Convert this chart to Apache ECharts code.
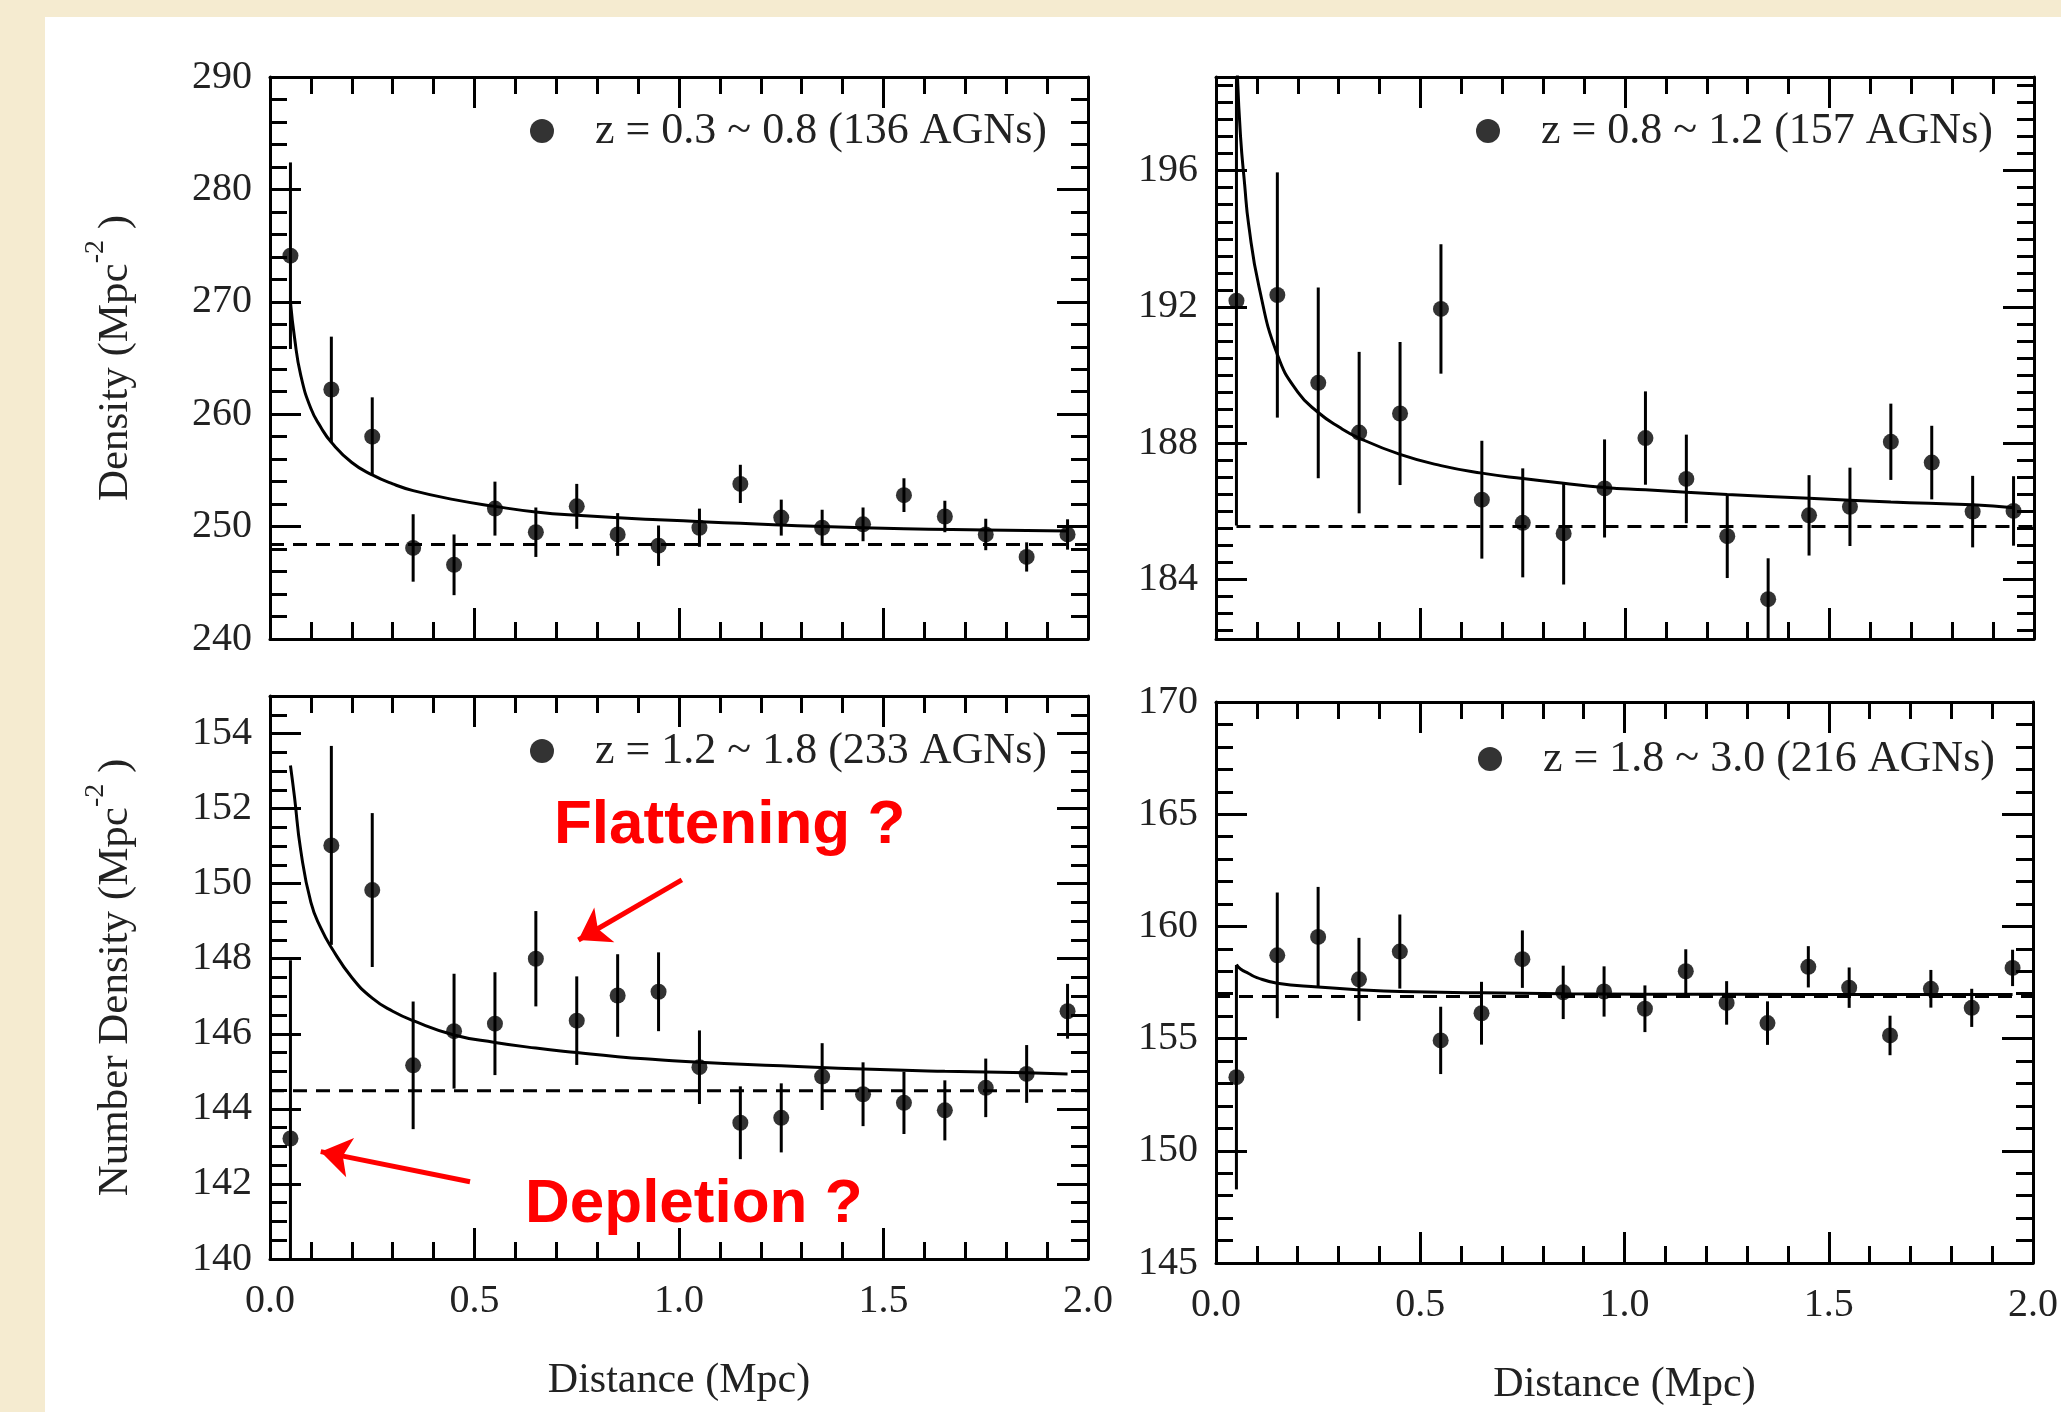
<!DOCTYPE html>
<html>
<head>
<meta charset="utf-8">
<script src="https://cdn.jsdelivr.net/npm/echarts@6/dist/echarts.min.js"></script>
<style>
  html, body { margin: 0; padding: 0; background: #F5EBD0; }
  #chart { width: 2061px; height: 1412px; }
</style>
</head>
<body>
<div id="chart"></div>
<script>
// bin centres (Mpc), shared by all four panels
const distance = [0.05, 0.15, 0.25, 0.35, 0.45, 0.55, 0.65, 0.75, 0.85, 0.95, 1.05, 1.15, 1.25, 1.35, 1.45, 1.55, 1.65, 1.75, 1.85, 1.95];
const xTickLabels = [0.0, 0.5, 1.0, 1.5, 2.0];

// z = 0.3 ~ 0.8
const density1 = [274.1, 262.2, 258.0, 248.1, 246.6, 251.6, 249.5, 251.8, 249.3, 248.3, 249.9, 253.8, 250.8, 249.9, 250.2, 252.8, 250.9, 249.3, 247.3, 249.3];
const error1 = [8.3, 4.7, 3.5, 3.0, 2.7, 2.4, 2.2, 2.0, 1.9, 1.8, 1.7, 1.7, 1.6, 1.6, 1.5, 1.5, 1.4, 1.4, 1.3, 1.35];
const fitX1 = [0.05, 0.06, 0.075, 0.1, 0.125, 0.15, 0.2, 0.25, 0.3, 0.35, 0.45, 0.55, 0.65, 0.75, 0.95, 1.15, 1.35, 1.55, 1.75, 1.95];
const fit1 = [270.0, 266.8, 263.5, 260.5, 258.8, 257.5, 255.7, 254.6, 253.8, 253.2, 252.4, 251.8, 251.3, 251.0, 250.6, 250.3, 250.0, 249.8, 249.7, 249.6];
const mean1 = 248.4;
const meanRange1 = [0.0, 2.0];
const yTicks1 = [240, 250, 260, 270, 280, 290];

// z = 0.8 ~ 1.2
const density2 = [192.18, 192.35, 189.77, 188.31, 188.87, 191.94, 186.34, 185.66, 185.35, 186.67, 188.15, 186.95, 185.27, 183.42, 185.88, 186.13, 188.04, 187.43, 185.99, 186.01];
const error2 = [6.6, 3.6, 2.8, 2.37, 2.1, 1.9, 1.73, 1.6, 1.5, 1.44, 1.37, 1.3, 1.23, 1.2, 1.18, 1.15, 1.12, 1.08, 1.05, 1.02];
const fitX2 = [0.052, 0.06, 0.07, 0.08, 0.105, 0.15, 0.2, 0.25, 0.3, 0.35, 0.45, 0.55, 0.65, 0.75, 0.85, 0.95, 1.05, 1.25, 1.45, 1.65, 1.85, 1.95];
const fit2 = [198.9, 197.0, 195.6, 194.4, 192.6, 190.6, 189.5, 188.9, 188.48, 188.15, 187.67, 187.34, 187.12, 186.96, 186.82, 186.7, 186.63, 186.49, 186.38, 186.27, 186.19, 186.1];
const mean2 = 185.55;
const meanRange2 = [0.05, 2.0];
const yTicks2 = [184, 188, 192, 196];

// z = 1.2 ~ 1.8
const density3 = [143.21, 151.02, 149.83, 145.16, 146.07, 146.27, 148.0, 146.35, 147.02, 147.12, 145.11, 143.63, 143.76, 144.86, 144.39, 144.16, 143.96, 144.56, 144.93, 146.6];
const error3 = [4.75, 2.65, 2.05, 1.7, 1.53, 1.37, 1.27, 1.18, 1.1, 1.05, 0.98, 0.97, 0.92, 0.89, 0.85, 0.83, 0.8, 0.78, 0.77, 0.73];
const fitX3 = [0.05, 0.06, 0.075, 0.1, 0.125, 0.15, 0.2, 0.25, 0.3, 0.35, 0.45, 0.55, 0.65, 0.75, 0.85, 0.95, 1.05, 1.25, 1.45, 1.65, 1.85, 1.95];
const fit3 = [153.15, 152.3, 150.9, 149.5, 148.8, 148.3, 147.5, 146.95, 146.6, 146.35, 145.97, 145.77, 145.62, 145.5, 145.39, 145.31, 145.24, 145.15, 145.06, 145.0, 144.96, 144.93];
const mean3 = 144.48;
const meanRange3 = [0.0, 2.0];
const yTicks3 = [140, 142, 144, 146, 148, 150, 152, 154];

// z = 1.8 ~ 3.0
const density4 = [153.28, 158.71, 159.53, 157.64, 158.88, 154.92, 156.13, 158.54, 157.06, 157.1, 156.33, 158.0, 156.59, 155.69, 158.2, 157.27, 155.14, 157.22, 156.37, 158.15];
const error4 = [5.0, 2.8, 2.23, 1.85, 1.65, 1.5, 1.4, 1.28, 1.19, 1.12, 1.04, 0.98, 0.97, 0.97, 0.92, 0.9, 0.88, 0.84, 0.85, 0.81];
const fitX4 = [0.05, 0.06, 0.08, 0.1, 0.15, 0.25, 0.35, 0.45, 0.65, 0.85, 1.05, 1.45, 1.95];
const fit4 = [158.3, 158.1, 157.9, 157.72, 157.47, 157.3, 157.18, 157.1, 157.04, 157.0, 156.98, 156.97, 156.96];
const mean4 = 156.88;
const meanRange4 = [0.0, 2.0];
const yTicks4 = [145, 150, 155, 160, 165, 170];

// annotation arrows in data units of the z = 1.2 ~ 1.8 panel: [from, to]
const flatteningArrow = [[1.007, 150.1], [0.754, 148.5]];
const depletionArrow = [[0.489, 142.06], [0.124, 142.86]];

const panels = [
  { name: 'z = 0.3 ~ 0.8 (136 AGNs)', y: density1, err: error1, fitX: fitX1, fit: fit1, mean: mean1, meanRange: meanRange1, ticks: yTicks1,
    min: 240, max: 290, minor: 2, grid: { left: 270, top: 77, width: 818, height: 562 },
    yName: 'Density (Mpc{sup|-2} )', xName: false, legend: { left: 530, top: 109 } },
  { name: 'z = 0.8 ~ 1.2 (157 AGNs)', y: density2, err: error2, fitX: fitX2, fit: fit2, mean: mean2, meanRange: meanRange2, ticks: yTicks2,
    min: 182.25, max: 198.75, minor: 0.5, grid: { left: 1216, top: 77, width: 818, height: 562 },
    yName: '', xName: false, legend: { left: 1476, top: 109 } },
  { name: 'z = 1.2 ~ 1.8 (233 AGNs)', y: density3, err: error3, fitX: fitX3, fit: fit3, mean: mean3, meanRange: meanRange3, ticks: yTicks3,
    min: 140, max: 155, minor: 0.5, grid: { left: 270, top: 696, width: 818, height: 563 },
    yName: 'Number Density (Mpc{sup|-2} )', xName: true, legend: { left: 530, top: 729 } },
  { name: 'z = 1.8 ~ 3.0 (216 AGNs)', y: density4, err: error4, fitX: fitX4, fit: fit4, mean: mean4, meanRange: meanRange4, ticks: yTicks4,
    min: 145, max: 170, minor: 1, grid: { left: 1216, top: 702, width: 818, height: 561 },
    yName: '', xName: true, legend: { left: 1478, top: 737 } }
];

const serif = 'Liberation Serif';
const ink = '#000';
const textInk = '#222';

function minorTicks (min, max, step) {
  const out = [];
  for (let k = Math.ceil(min / step - 1e-9); k * step <= max + 1e-9; k++) {
    out.push(+(k * step).toFixed(4));
  }
  return out;
}

function tickAxis (extra, values, len, showLine) {
  return Object.assign({
    type: 'value',
    splitLine: { show: false },
    axisLine: { show: showLine, onZero: false, lineStyle: { color: ink, width: 3 } },
    axisTick: { show: true, inside: true, length: len, customValues: values, lineStyle: { color: ink, width: 3 } },
    axisLabel: { show: false }
  }, extra)
}

const grids = [];
const xAxes = [];
const yAxes = [];
const series = [];
const legends = [];

panels.forEach((p, gi) => {
  grids.push(p.grid);
  const xMinor = minorTicks(0, 2, 0.1);
  const yMinor = minorTicks(p.min, p.max, p.minor);
  const xb = { gridIndex: gi, min: 0, max: 2 };
  const yb = { gridIndex: gi, min: p.min, max: p.max };

  const xMain = tickAxis(Object.assign({ position: 'bottom' }, xb), xTickLabels, 31, true);
  if (p.xName) {
    xMain.axisLabel = {
      show: true, customValues: xTickLabels, margin: 22,
      formatter: v => v.toFixed(1), fontFamily: serif, fontSize: 40, color: textInk
    };
    xMain.name = 'Distance (Mpc)';
    xMain.nameLocation = 'middle';
    xMain.nameGap = 101;
    xMain.nameTextStyle = { fontFamily: serif, fontSize: 42, color: textInk };
  }
  xAxes.push(xMain,
    tickAxis(Object.assign({ position: 'bottom' }, xb), xMinor, 17, false),
    tickAxis(Object.assign({ position: 'top' }, xb), xTickLabels, 31, true),
    tickAxis(Object.assign({ position: 'top' }, xb), xMinor, 17, false));

  const yMain = tickAxis(Object.assign({ position: 'left' }, yb), p.ticks, 31, true);
  yMain.axisLabel = {
    show: true, customValues: p.ticks, margin: 18,
    fontFamily: serif, fontSize: 40, color: textInk
  };
  if (p.yName) {
    yMain.name = p.yName;
    yMain.nameLocation = 'middle';
    yMain.nameRotate = 90;
    yMain.nameGap = 120;
    yMain.nameTextStyle = {
      fontFamily: serif, fontSize: 43, color: textInk, lineHeight: 68,
      rich: { sup: { fontFamily: serif, fontSize: 28, color: textInk, verticalAlign: 'top', lineHeight: 28 } }
    };
  }
  yAxes.push(yMain,
    tickAxis(Object.assign({ position: 'left' }, yb), yMinor, 17, false),
    tickAxis(Object.assign({ position: 'right' }, yb), p.ticks, 31, true),
    tickAxis(Object.assign({ position: 'right' }, yb), yMinor, 17, false));

  const xi = gi * 4;
  series.push({
    type: 'custom',
    xAxisIndex: xi,
    yAxisIndex: xi,
    clip: true,
    z: 3,
    data: distance.map((d, i) => [d, p.y[i], p.err[i]]),
    renderItem: (params, api) => {
      const x = api.value(0);
      const top = api.coord([x, api.value(1) + api.value(2)]);
      const bottom = api.coord([x, api.value(1) - api.value(2)]);
      return {
        type: 'line',
        shape: { x1: top[0], y1: top[1], x2: bottom[0], y2: bottom[1] },
        style: { stroke: ink, lineWidth: 3 }
      };
    }
  });
  series.push({
    name: p.name,
    type: 'scatter',
    xAxisIndex: xi,
    yAxisIndex: xi,
    symbol: 'circle',
    symbolSize: 16,
    itemStyle: { color: ink },
    z: 4,
    data: distance.map((d, i) => [d, p.y[i]])
  });
  series.push({
    type: 'line',
    xAxisIndex: xi,
    yAxisIndex: xi,
    showSymbol: false,
    smooth: 0.5,
    lineStyle: { color: ink, width: 3 },
    z: 3,
    data: p.fitX.map((x, i) => [x, p.fit[i]])
  });
  const meanLine = {
    type: 'line',
    xAxisIndex: xi,
    yAxisIndex: xi,
    showSymbol: false,
    lineStyle: { color: ink, width: 3, type: [14, 9] },
    z: 3,
    data: p.meanRange.map(x => [x, p.mean])
  };
  if (gi === 2) {
    meanLine.markLine = {
      silent: true,
      symbol: ['none', 'arrow'],
      symbolSize: 30,
      label: { show: false },
      lineStyle: { color: '#FF0000', width: 5, type: 'solid' },
      data: [
        [{ coord: flatteningArrow[0] }, { coord: flatteningArrow[1] }],
        [{ coord: depletionArrow[0] }, { coord: depletionArrow[1] }]
      ]
    };
  }
  series.push(meanLine);

  legends.push({
    data: [p.name],
    left: p.legend.left,
    top: p.legend.top,
    padding: 0,
    selectedMode: false,
    icon: 'circle',
    itemWidth: 24,
    itemHeight: 24,
    textStyle: { fontFamily: serif, fontSize: 44, color: textInk, lineHeight: 44, padding: [0, 0, 0, 36] }
  });
});

const chart = echarts.init(document.getElementById('chart'));
chart.setOption({
  animation: false,
  backgroundColor: '#F5EBD0',
  grid: grids,
  xAxis: xAxes,
  yAxis: yAxes,
  legend: legends,
  series: series,
  graphic: [
    { type: 'rect', left: 45, top: 17, z: -100, silent: true, shape: { width: 2016, height: 1395 }, style: { fill: '#fff' } },
    { type: 'text', left: 554, top: 795, silent: true, style: { text: 'Flattening ?', font: 'bold 62px "Liberation Sans"', fill: '#FF0000' } },
    { type: 'text', left: 525, top: 1174, silent: true, style: { text: 'Depletion ?', font: 'bold 62px "Liberation Sans"', fill: '#FF0000' } }
  ]
});
</script>
</body>
</html>
